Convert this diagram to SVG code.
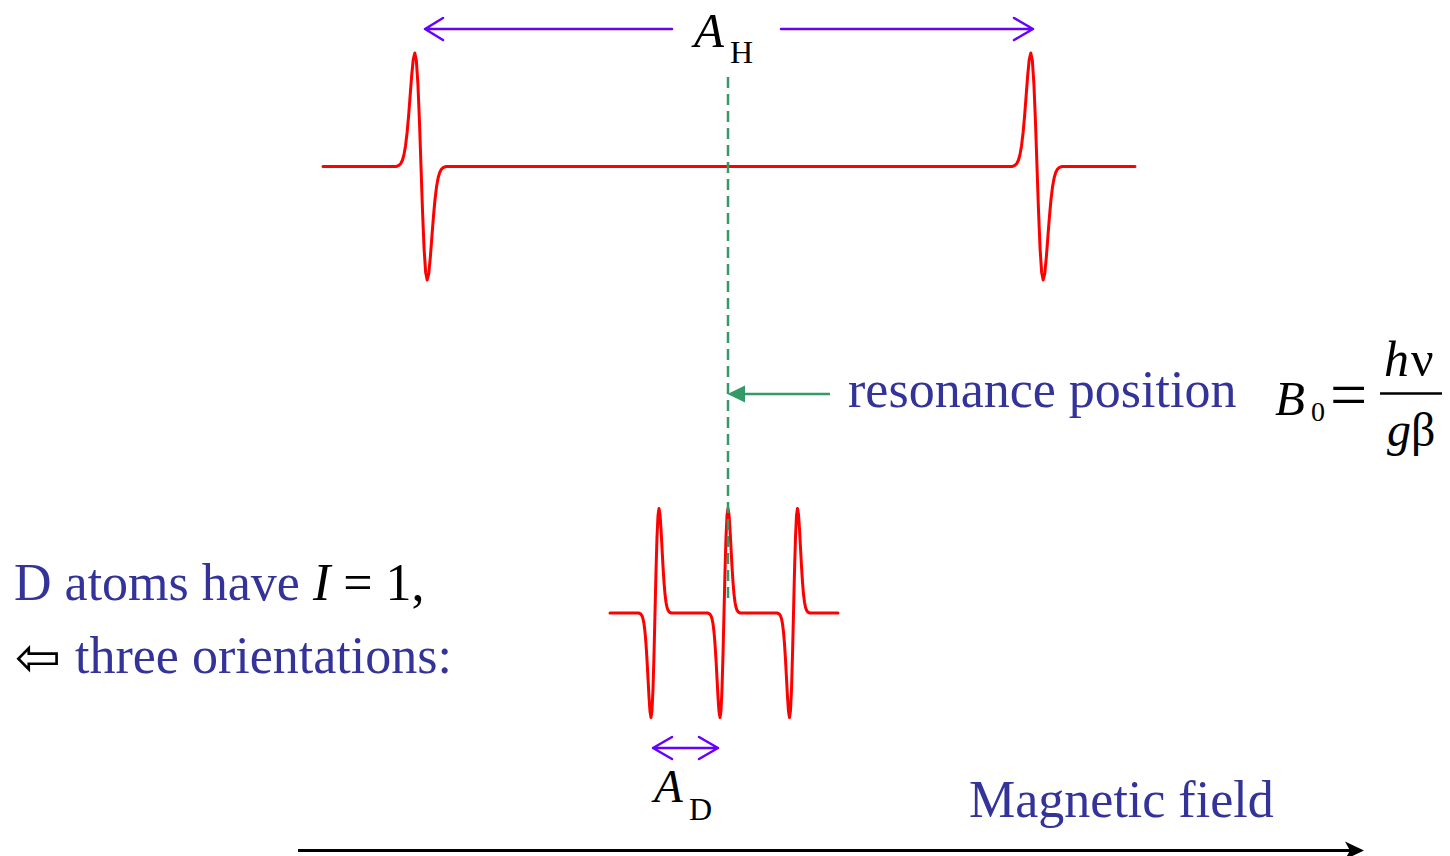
<svg xmlns="http://www.w3.org/2000/svg" xmlns:xlink="http://www.w3.org/1999/xlink" width="1450" height="856" viewBox="0 0 1450 856">
<style>
.sp{fill:none;stroke:#ff0000;stroke-width:3;stroke-linejoin:round;stroke-linecap:round}
.pk{fill:none;stroke:#ff0000;stroke-width:3;stroke-linejoin:round;vector-effect:non-scaling-stroke}
.pu{fill:none;stroke:#6600ff;stroke-width:2.5;stroke-linecap:round;stroke-linejoin:round}
.gr{stroke:#339966;stroke-width:2.5;fill:none}
.t{font-family:"Liberation Serif","Times New Roman",serif;font-size:52px;fill:#333399}
.m{font-family:"Liberation Serif","Times New Roman",serif;fill:#000}
.i{font-style:italic}
</style>
<defs>
<path id="pk" class="pk" d="M-4,-0.0022 L-3.75,-0.0055 -3.5,-0.0126 -3.25,-0.0273 -3,-0.055 -2.75,-0.1033 -2.5,-0.1811 -2.25,-0.2951 -2,-0.4463 -1.75,-0.624 -1.5,-0.8029 -1.25,-0.9435 -1,-1 -0.75,-0.9334 -0.5,-0.7275 -0.25,-0.3995 0,0 0.25,0.3995 0.5,0.7275 0.75,0.9334 1,1 1.25,0.9435 1.5,0.8029 1.75,0.624 2,0.4463 2.25,0.2951 2.5,0.1811 2.75,0.1033 3,0.055 3.25,0.0273 3.5,0.0126 3.75,0.0055 4,0.0022"/>
</defs>
<rect width="1450" height="856" fill="#fff"/>

<g id="spectrum-H">
<path class="sp" d="M323,166.5 H396.2 M445.8,166.5 H1012.2 M1061.8,166.5 H1135"/>
<use xlink:href="#pk" href="#pk" transform="translate(421,166.5) scale(6.2,113.5)"/>
<use xlink:href="#pk" href="#pk" transform="translate(1037,166.5) scale(6.2,113.5)"/>
</g>

<g id="spectrum-D">
<path class="sp" d="M610,613 H639 M671,613 H708 M740,613 H777.5 M809.5,613 H838"/>
<use xlink:href="#pk" href="#pk" transform="translate(655,613) scale(4,-104.5)"/>
<use xlink:href="#pk" href="#pk" transform="translate(724,613) scale(4,-104.5)"/>
<use xlink:href="#pk" href="#pk" transform="translate(793.5,613) scale(4,-104.5)"/>
</g>

<g id="connectors">
<line class="gr" x1="728" y1="77" x2="728" y2="603" stroke-dasharray="11 6"/>
<line class="gr" x1="744" y1="394" x2="830" y2="394"/>
<polygon points="727.5,394 745,385.5 745,402.5" fill="#339966"/>
<path class="pu" d="M425,29 H672 M443,18 L425,29 L443,40"/>
<path class="pu" d="M781,29 H1033 M1014,18 L1033,29 L1014,40"/>
<path class="pu" d="M653,748 H718 M672,737 L653,748 L672,759 M699,737 L718,748 L699,759"/>
<line x1="298" y1="850.5" x2="1352" y2="850.5" stroke="#000" stroke-width="3"/>
<polygon points="1364,850.5 1345,841.5 1350,850.5 1345,859.5" fill="#000"/>
</g>

<g id="label-AH">
<text class="m i" x="694" y="47" font-size="49">A</text>
<text class="m" x="730" y="63" font-size="32">H</text>
</g>

<g id="label-resonance">
<text class="t" x="848" y="407">resonance position</text>
</g>

<g id="formula">
<text class="m i" x="1275" y="415" font-size="49">B</text>
<text class="m" x="1311" y="421" font-size="28">0</text>
<text class="m" x="1330" y="417" font-size="66">=</text>
<text class="m" x="1384" y="376" font-size="50"><tspan class="i">h</tspan><tspan dx="2">ν</tspan></text>
<line x1="1380" y1="393.5" x2="1442" y2="393.5" stroke="#000" stroke-width="2.5"/>
<text class="m" x="1387" y="446" font-size="48"><tspan class="i">g</tspan>β</text>
</g>

<g id="label-D">
<text class="t" x="14" y="600">D atoms have <tspan class="i" fill="#000">I</tspan><tspan fill="#000"> = 1,</tspan></text>
<text x="15" y="676" font-family="DejaVu Sans" font-size="55" fill="#000">⇦</text>
<text class="t" x="75" y="673">three orientations:</text>
</g>

<g id="label-AD">
<text class="m i" x="654" y="802" font-size="47">A</text>
<text class="m" x="689" y="820" font-size="32">D</text>
</g>

<g id="label-field">
<text class="t" x="969" y="817">Magnetic field</text>
</g>
</svg>
